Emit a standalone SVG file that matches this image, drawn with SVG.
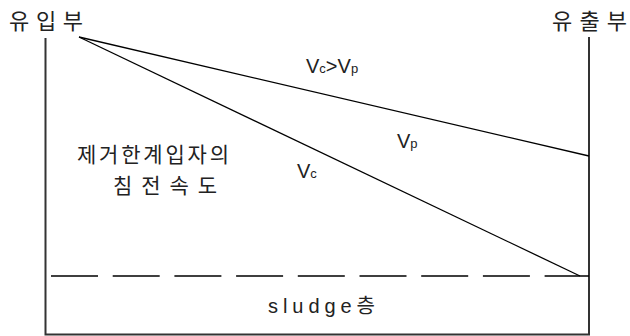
<svg xmlns="http://www.w3.org/2000/svg" width="630" height="336" viewBox="0 0 630 336">
<style>
.ln{stroke:#000;stroke-width:1.3;fill:none}
.wall{stroke:#333;stroke-width:2;fill:none}
.kr{font-family:"Noto Sans CJK KR","Liberation Sans",sans-serif;font-size:22px;fill:#222}
.lb{font-size:21px}
.sl{font-family:"Liberation Sans","Noto Sans CJK KR",sans-serif;font-size:20px;fill:#222}
.v{font-family:"Liberation Sans","Noto Sans CJK KR",sans-serif;font-size:20px;fill:#222}
.s{font-size:13px}
</style>
<rect width="630" height="336" fill="#fff"/>
<g id="tank">
<path class="wall" d="M45.5,38 V334.5 H589 V37"/>
</g>
<g id="connectors">
<line class="ln" x1="79" y1="37" x2="589" y2="156"/>
<line class="ln" x1="79" y1="37" x2="580" y2="276"/>
<line class="ln" x1="51" y1="276" x2="589" y2="276" stroke-dasharray="47 14.7"/>
</g>
<g id="inlet"><text class="kr" x="9" y="29" textLength="74" lengthAdjust="spacing">유입부</text></g>
<g id="outlet"><text class="kr" x="552" y="29" textLength="75" lengthAdjust="spacing">유출부</text></g>
<g id="vcvp"><text class="v" x="306" y="73">V<tspan class="s">c</tspan>&gt;V<tspan class="s">p</tspan></text></g>
<g id="vp"><text class="v" x="397" y="148">V<tspan class="s">p</tspan></text></g>
<g id="vc"><text class="v" x="297" y="178">V<tspan class="s">c</tspan></text></g>
<g id="label">
<text class="kr lb" x="77" y="162" textLength="152" lengthAdjust="spacing">제거한계입자의</text>
<text class="kr lb" x="113" y="193" textLength="104" lengthAdjust="spacing">침전속도</text>
</g>
<g id="sludge"><text class="sl" x="268" y="313" textLength="107" lengthAdjust="spacing">sludge층</text></g>
</svg>
